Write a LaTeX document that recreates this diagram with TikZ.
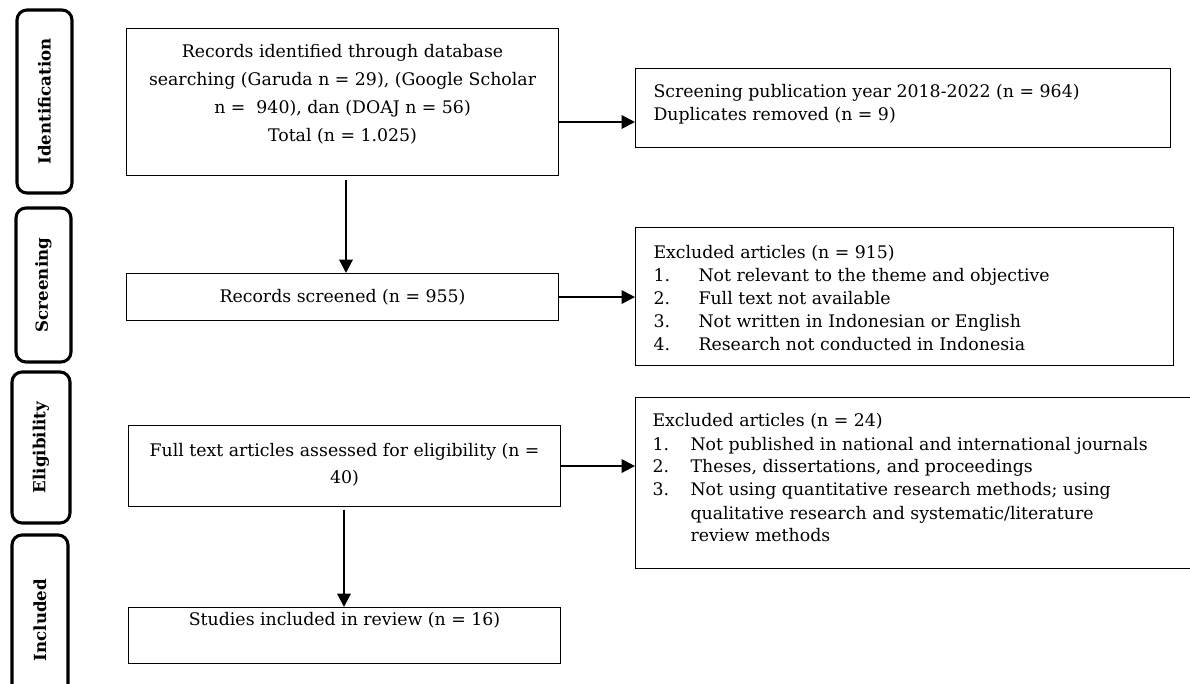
\documentclass[tikz,border=0pt]{standalone}
\usepackage{fontspec}
\setmainfont{DejaVu Serif}
\usetikzlibrary{arrows.meta}
\newlength\numw
\newcommand\li[2]{\makebox[\numw][l]{#1}#2}
\begin{document}
\begin{tikzpicture}[x=0.75pt,y=-0.75pt,
  lab/.style={draw, line width=2.3pt, rounded corners=7.5pt, rotate=90,
    inner sep=0pt, font=\fontsize{12.5}{14}\selectfont\bfseries},
  box/.style={draw, line width=0.8pt, inner sep=0pt, anchor=north west},
  arr/.style={line width=1.5pt, -{Triangle[length=10pt,width=10pt]}},
]
\useasboundingbox (0,0) rectangle (1190,684);

% stage labels
\node[lab, minimum width=137.25pt, minimum height=41.25pt] (lid) at (44.5,101.5) {Identification};
\node[lab, minimum width=115.5pt, minimum height=41.25pt] (lsc) at (43.5,285) {Screening};
\node[lab, minimum width=113.25pt, minimum height=43.5pt] (lel) at (41,447.5) {Eligibility};
\node[lab, minimum width=127.5pt, minimum height=42pt] (lin) at (40,620) {Included};

% main column
\node[box] (b1) at (126,28) {\begin{minipage}[c][110.25pt][t]{324pt}\centering
  \fontsize{13}{21}\selectfont
  \rule{0pt}{22.1pt}Records identified through database\\
  searching (Garuda n = 29), (Google Scholar\\
  n = \ 940), dan (DOAJ n = 56)\\
  Total (n = 1.025)\end{minipage}};

\node[box] (b2) at (126,273) {\begin{minipage}[c][35.25pt][t]{324pt}\centering
  \fontsize{13}{17}\selectfont
  \rule{0pt}{21.75pt}Records screened (n = 955)\end{minipage}};

\node[box] (b5) at (128,425) {\begin{minipage}[c][60.75pt][t]{324pt}\centering
  \fontsize{13}{20.25}\selectfont
  \rule{0pt}{22.9pt}Full text articles assessed for eligibility (n =\\
  40)\end{minipage}};

\node[box] (b7) at (128,607) {\begin{minipage}[c][42pt][t]{324pt}\centering
  \fontsize{13}{17}\selectfont
  \rule{0pt}{13.1pt}Studies included in review (n = 16)\end{minipage}};

% right column
\node[box] (b3) at (635,68) {\begin{minipage}[c][59.25pt][t]{401.25pt}
  \leftskip=13.5pt \fontsize{13}{17.25}\selectfont
  \rule{0pt}{22.1pt}Screening publication year 2018-2022 (n = 964)\\
  Duplicates removed (n = 9)\end{minipage}};

\node[box] (b4) at (635,227) {\begin{minipage}[c][103.5pt][t]{403.5pt}
  \leftskip=13.5pt \fontsize{13}{17.25}\selectfont \setlength\numw{33.75pt}%
  \rule{0pt}{22.9pt}Excluded articles (n = 915)\\
  \li{1.}{Not relevant to the theme and objective}\\
  \li{2.}{Full text not available}\\
  \li{3.}{Not written in Indonesian or English}\\
  \li{4.}{Research not conducted in Indonesia}\end{minipage}};

\node[box] (b6) at (635,397) {\begin{minipage}[c][128.25pt][t]{423.75pt}
  \leftskip=12.75pt \fontsize{13}{17.25}\selectfont \setlength\numw{28.5pt}%
  \rule{0pt}{22.1pt}Excluded articles (n = 24)\\
  \li{1.}{Not published in national and international journals}\\
  \li{2.}{Theses, dissertations, and proceedings}\\
  \li{3.}{Not using quantitative research methods; using}\\
  \li{}{qualitative research and systematic/literature}\\
  \li{}{review methods}\end{minipage}};

% connectors
\coordinate (y1) at (0,122);
\coordinate (x1) at (346,0);
\coordinate (x2) at (344,0);
\draw[arr] (b1.east |- y1) -- (b3.west |- y1);
\draw[arr, shorten <=3pt] (b1.south -| x1) -- (b2.north -| x1);
\draw[arr] (b2.east) -- (b2.east -| b4.west);
\draw[arr] (b5.east) -- (b5.east -| b6.west);
\draw[arr, shorten <=2pt] (b5.south -| x2) -- (b7.north -| x2);
\end{tikzpicture}
\end{document}
